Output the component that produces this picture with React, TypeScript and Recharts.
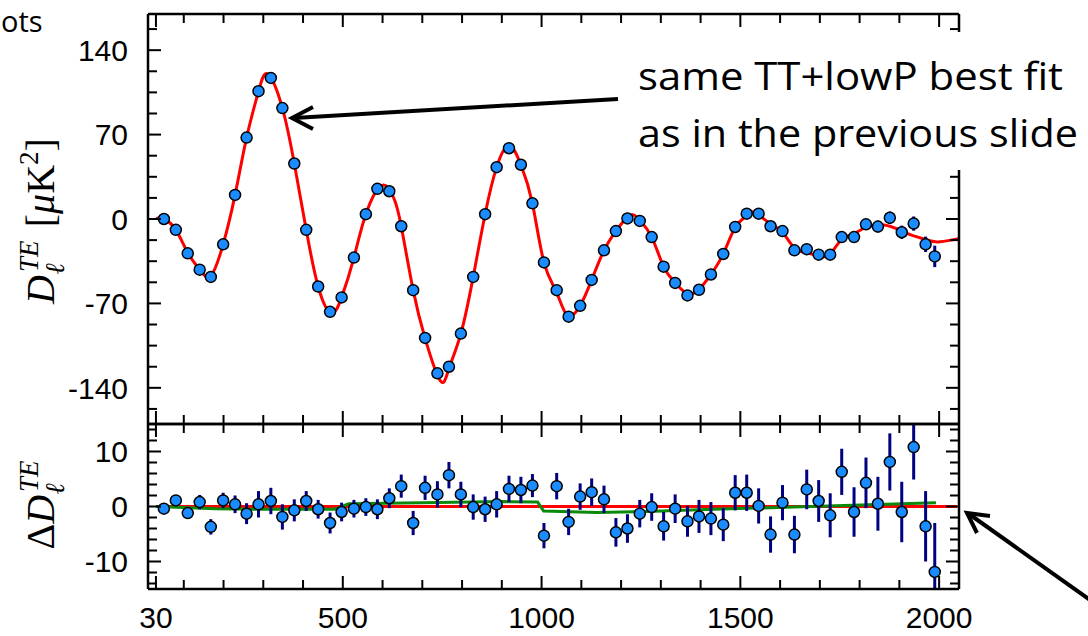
import React from 'react';
import { ComposedChart, Line, Scatter, XAxis, YAxis, ErrorBar } from 'recharts';

// ---- data ----
const binEll = [50, 80, 110, 140, 168, 199, 229, 258, 288, 319, 348, 378, 408, 438, 468, 497, 528, 558, 587, 617, 647, 677, 707, 738, 767, 797, 828, 858, 887, 918, 948, 977, 1006, 1038, 1068, 1097, 1126, 1157, 1187, 1216, 1247, 1277, 1307, 1336, 1367, 1396, 1426, 1457, 1487, 1516, 1546, 1576, 1606, 1636, 1667, 1697, 1726, 1755, 1786, 1816, 1846, 1876, 1906, 1936, 1966, 1989];
const teValues = [0, -9, -28.5, -42, -48, -21, 20, 67.5, 106, 117, 92, 46, -9, -56, -77, -65, -32, 4, 25, 23, -6, -59, -98.6, -128, -122.5, -95, -48, 4, 43, 58.7, 45, 13, -36, -59, -81, -72, -50.5, -26, -10, 0.5, -1.6, -15, -39.5, -53, -63.4, -58.7, -46, -29, -6.6, 4.4, 4.4, -6, -10, -26, -25, -29.6, -29.6, -15, -15, -4.4, -6.3, 1, -11, -3.8, -21, -31];
const teResid = [-0.4, 1.1, -1.2, 0.8, -3.7, 1.1, 0.4, -1.3, 0.4, 1.0, -1.9, -0.7, 1.0, -0.5, -3.0, -1.0, -0.4, -0.1, -0.5, 1.5, 3.7, -3.0, 3.4, 2.2, 5.7, 2.2, -0.1, -0.5, 0.4, 3.2, 3.0, 3.8, -5.3, 3.7, -2.8, 1.8, 2.6, 1.3, -4.7, -4.0, -1.3, -0.1, -3.6, -0.4, -2.7, -1.8, -2.2, -3.3, 2.5, 2.5, 0.1, -5.1, 0.7, -5.1, 3.1, 1.0, -1.6, 6.3, -1.0, 4.3, 0.5, 8.1, -1.0, 10.8, -3.6, -11.9];
const teErr = [0.8, 0.9, 1.0, 1.3, 1.4, 1.4, 1.6, 1.9, 2.4, 2.4, 2.3, 2.0, 1.8, 1.7, 1.9, 1.7, 1.6, 1.6, 1.8, 1.8, 2.1, 2.2, 2.2, 2.4, 2.4, 2.3, 2.3, 2.3, 2.4, 2.4, 2.4, 2.1, 2.3, 2.4, 2.4, 2.4, 2.5, 2.5, 2.6, 2.6, 2.5, 2.5, 2.6, 2.6, 2.8, 3.0, 3.0, 3.0, 3.2, 3.3, 3.2, 3.3, 3.2, 3.4, 3.6, 3.8, 4.0, 4.2, 4.5, 4.6, 4.9, 5.2, 5.5, 5.9, 6.4, 8.9];

const fitEll = [30, 50, 80, 110, 140, 168, 199, 229, 258, 288, 312, 348, 378, 408, 438, 470, 497, 528, 558, 600, 630, 647, 677, 707, 745, 767, 797, 828, 858, 887, 918, 948, 977, 1006, 1038, 1065, 1097, 1126, 1157, 1187, 1222, 1247, 1277, 1307, 1336, 1367, 1396, 1426, 1457, 1487, 1516, 1535, 1576, 1606, 1636, 1667, 1700, 1726, 1755, 1786, 1816, 1862, 1906, 1936, 1966, 1996, 2030, 2053];
const fitValues = [0.5, 0, -9, -28, -42, -47, -21, 20, 67.5, 106, 120, 92, 46, -9, -56, -78, -65, -32, 4, 28, 16, -6, -59, -99, -134, -124, -95, -48, 4, 43, 61, 45, 13, -36, -61, -80, -72, -50.5, -26, -10, 3, -1, -15, -39.5, -53, -62, -58.5, -46, -29, -7, 3, 5.5, -4, -11, -24, -28, -31, -29, -17, -12, -7, -5, -10, -14, -17, -19, -17.5, -16];

const altEll = [30, 180, 300, 480, 515, 700, 900, 990, 1005, 1140, 1266, 1433, 1635, 1992];
const altResid = [0, -0.4, -0.5, -0.5, 0.5, 0.7, 0.9, 0.8, -0.8, -1.1, -0.9, -0.5, -0.1, 0.7];

const zeroEll = [30, 2045];
const zeroResid = [0, 0];

const xTicks = [30, 100, 200, 300, 400, 500, 600, 700, 800, 900, 1000, 1100, 1200, 1300, 1400, 1500, 1600, 1700, 1800, 1900, 2000];
const xMajor = [30, 500, 1000, 1500, 2000];
const yTicksTop = [-157.5, -140, -122.5, -105, -87.5, -70, -52.5, -35, -17.5, 0, 17.5, 35, 52.5, 70, 87.5, 105, 122.5, 140, 157.5];
const yMajorTop = [-140, -70, 0, 70, 140];
const yTicksBottom = [-14, -12, -10, -8, -6, -4, -2, 0, 2, 4, 6, 8, 10, 12, 14];
const yMajorBottom = [-10, 0, 10];

// ---- tables for recharts ----
const topPoints = binEll.map((l, i) => ({ l, v: teValues[i], e: teErr[i] }));
const residPoints = binEll.map((l, i) => ({ l, v: teResid[i], e: teErr[i] }));
const fitLine = fitEll.map((l, i) => ({ l, v: fitValues[i] }));
const altLine = altEll.map((l, i) => ({ l, v: altResid[i] }));
const zeroLine = zeroEll.map((l, i) => ({ l, v: zeroResid[i] }));

const SANS = "'Liberation Sans', Arial, Helvetica, sans-serif";
const SERIF = "'Liberation Serif', 'DejaVu Serif', serif";
const SLIDE = "'Open Sans', 'Noto Sans', sans-serif";
const W = 1088;
const H = 636;
const X_DOMAIN: [number, number] = [10, 2050];

type Side = 'left' | 'right' | 'top' | 'bottom';
const makeTick = (side: Side, majors: number[], labels: boolean) => (props: any) => {
  const { x, y, payload } = props;
  const v = payload.value;
  const major = majors.indexOf(v) >= 0;
  const len = major ? 13 : 9;
  let x2 = x, y2 = y;
  if (side === 'left') x2 = x + len;
  if (side === 'right') x2 = x - len;
  if (side === 'top') y2 = y + len;
  if (side === 'bottom') y2 = y - len;
  let label = null;
  if (labels && major) {
    if (side === 'left') {
      label = (
        <text x={x - 20} y={y} dy="0.36em" textAnchor="end" fontSize={30} fontFamily={SANS} fill="#000">
          {String(v)}
        </text>
      );
    } else if (side === 'bottom') {
      label = (
        <text x={x} y={y + 39} textAnchor="middle" fontSize={30} fontFamily={SANS} fill="#000">
          {String(v)}
        </text>
      );
    }
  }
  return (
    <g>
      <line x1={x} y1={y} x2={x2} y2={y2} stroke="#000" strokeWidth={2} />
      {label}
    </g>
  );
};

const axisLine = { stroke: '#000', strokeWidth: 2.5 };
const dotShape = (p: any) => (
  <circle cx={p.cx} cy={p.cy} r={5.5} fill="#1a8cff" stroke="#000" strokeWidth={1.5} />
);

const TopPanel = () => (
  <ComposedChart width={W} height={H} margin={{ top: 13, right: 128, bottom: 211, left: 0 }}>
    <XAxis xAxisId="b" dataKey="l" type="number" domain={X_DOMAIN} allowDataOverflow ticks={xTicks} interval={0}
      orientation="bottom" height={1} tickSize={0} tickMargin={0} tickLine={false} axisLine={axisLine}
      tick={makeTick('bottom', xMajor, false)} />
    <XAxis xAxisId="t" dataKey="l" type="number" domain={X_DOMAIN} allowDataOverflow ticks={xTicks} interval={0}
      orientation="top" height={1} tickSize={0} tickMargin={0} tickLine={false} axisLine={axisLine}
      tick={makeTick('top', xMajor, false)} />
    <YAxis yAxisId="l" type="number" domain={[-170, 170]} allowDataOverflow ticks={yTicksTop} interval={0}
      orientation="left" width={148} tickSize={0} tickMargin={0} tickLine={false} axisLine={axisLine}
      tick={makeTick('left', yMajorTop, true)} />
    <YAxis yAxisId="r" type="number" domain={[-170, 170]} allowDataOverflow ticks={yTicksTop} interval={0}
      orientation="right" width={1} tickSize={0} tickMargin={0} tickLine={false} axisLine={axisLine}
      tick={makeTick('right', yMajorTop, false)} />
    <Line xAxisId="b" yAxisId="l" data={fitLine} dataKey="v" type="natural" stroke="#ff0000" strokeWidth={3}
      dot={false} activeDot={false} isAnimationActive={false} />
    <Scatter xAxisId="b" yAxisId="l" data={topPoints} dataKey="v" shape={dotShape} isAnimationActive={false}>
      <ErrorBar dataKey="e" direction="y" width={0} stroke="#000080" strokeWidth={3} isAnimationActive={false} />
    </Scatter>
  </ComposedChart>
);

const BOTTOM_MARGIN = { top: 423, right: 128, bottom: 0, left: 0 };

const BottomAxes = ({ visible }: { visible: boolean }) => (
  <>
    <XAxis xAxisId="b" dataKey="l" type="number" domain={X_DOMAIN} allowDataOverflow ticks={xTicks} interval={0}
      orientation="bottom" height={47} tickSize={0} tickMargin={0} tickLine={false}
      axisLine={visible ? axisLine : false} tick={visible ? makeTick('bottom', xMajor, true) : false} />
    <XAxis xAxisId="t" dataKey="l" type="number" domain={X_DOMAIN} allowDataOverflow ticks={xTicks} interval={0}
      orientation="top" height={1} tickSize={0} tickMargin={0} tickLine={false}
      axisLine={visible ? axisLine : false} tick={visible ? makeTick('top', xMajor, false) : false} />
    <YAxis yAxisId="l" type="number" domain={[-15, 15]} allowDataOverflow ticks={yTicksBottom} interval={0}
      orientation="left" width={148} tickSize={0} tickMargin={0} tickLine={false}
      axisLine={visible ? axisLine : false} tick={visible ? makeTick('left', yMajorBottom, true) : false} />
    <YAxis yAxisId="r" type="number" domain={[-15, 15]} allowDataOverflow ticks={yTicksBottom} interval={0}
      orientation="right" width={1} tickSize={0} tickMargin={0} tickLine={false}
      axisLine={visible ? axisLine : false} tick={visible ? makeTick('right', yMajorBottom, false) : false} />
  </>
);

const BottomData = () => (
  <ComposedChart width={W} height={H} margin={BOTTOM_MARGIN}>
    {BottomAxes({ visible: false })}
    <Line xAxisId="b" yAxisId="l" data={zeroLine} dataKey="v" type="linear" stroke="#ff0000" strokeWidth={3}
      dot={false} activeDot={false} isAnimationActive={false} />
    <Line xAxisId="b" yAxisId="l" data={altLine} dataKey="v" type="linear" stroke="#0a8a0a" strokeWidth={3}
      dot={false} activeDot={false} isAnimationActive={false} />
    <Scatter xAxisId="b" yAxisId="l" data={residPoints} dataKey="v" shape={dotShape} isAnimationActive={false}>
      <ErrorBar dataKey="e" direction="y" width={0} stroke="#000080" strokeWidth={3} isAnimationActive={false} />
    </Scatter>
  </ComposedChart>
);

const BottomFrame = () => (
  <ComposedChart width={W} height={H} margin={BOTTOM_MARGIN}>
    {BottomAxes({ visible: true })}
    <Line xAxisId="b" yAxisId="l" data={zeroLine} dataKey="v" stroke="none" dot={false} activeDot={false}
      isAnimationActive={false} />
    <Line xAxisId="t" yAxisId="r" data={zeroLine} dataKey="v" stroke="none" dot={false} activeDot={false}
      isAnimationActive={false} />
  </ComposedChart>
);

const Overlay = () => (
  <svg width={W} height={H} style={{ position: 'absolute', left: 0, top: 0, pointerEvents: 'none' }}>
    <text x={1} y={32} fontSize={29} fontFamily={SLIDE} fill="#000">ots</text>
    <rect x={628} y={32} width={460} height={138} fill="#fff" />
    <text x={638} y={90} fontSize={38} fontFamily={SLIDE} fill="#000" textLength={425} lengthAdjust="spacingAndGlyphs">same TT+lowP best fit</text>
    <text x={638} y={147} fontSize={38} fontFamily={SLIDE} fill="#000" textLength={440} lengthAdjust="spacingAndGlyphs">as in the previous slide</text>
    <line x1={618} y1={99} x2={294} y2={118} stroke="#000" strokeWidth={4} />
    <polyline points="313,107 292,118 313,129" fill="none" stroke="#000" strokeWidth={4} strokeLinejoin="miter" />
    <line x1={1090} y1={600} x2={969} y2={514} stroke="#000" strokeWidth={4} />
    <polyline points="990,516 967,513 977,533" fill="none" stroke="#000" strokeWidth={4} />
    <text transform="translate(54,221) rotate(-90)" textAnchor="middle" fontFamily={SERIF} fontSize={40} fill="#000">
      <tspan fontStyle="italic">D</tspan>
      <tspan fontStyle="italic" fontSize={27} dx={3} dy={-16}>TE</tspan>
      <tspan fontStyle="italic" fontSize={27} dx={-34} dy={26}>ℓ</tspan>
      <tspan dx={36} dy={-10}>[</tspan>
      <tspan fontStyle="italic">μ</tspan>
      <tspan>K</tspan>
      <tspan fontSize={27} dy={-16}>2</tspan>
      <tspan dy={16}>]</tspan>
    </text>
    <text transform="translate(54,505) rotate(-90)" textAnchor="middle" fontFamily={SERIF} fontSize={40} fill="#000">
      <tspan>Δ</tspan>
      <tspan fontStyle="italic">D</tspan>
      <tspan fontStyle="italic" fontSize={27} dx={3} dy={-16}>TE</tspan>
      <tspan fontStyle="italic" fontSize={27} dx={-34} dy={26}>ℓ</tspan>
    </text>
  </svg>
);

export default function App() {
  return (
    <div style={{ position: 'absolute', left: 0, top: 0, width: W, height: H, background: '#fff', overflow: 'hidden' }}>
      <div style={{ position: 'absolute', left: 0, top: 0 }}><TopPanel /></div>
      <div style={{ position: 'absolute', left: 0, top: 0, clipPath: 'inset(424px 129px 47px 148px)' }}><BottomData /></div>
      <div style={{ position: 'absolute', left: 0, top: 0 }}><BottomFrame /></div>
      <Overlay />
    </div>
  );
}
